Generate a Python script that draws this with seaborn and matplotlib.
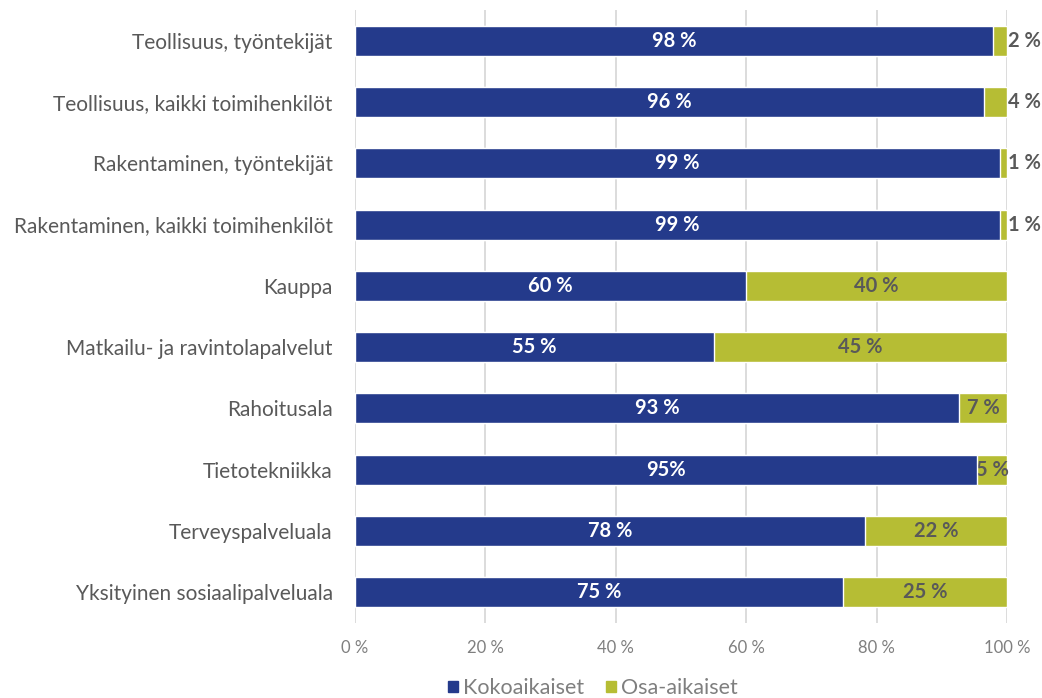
import numpy as np
import pandas as pd
import matplotlib
matplotlib.use("Agg")
import matplotlib.pyplot as plt
import seaborn as sns

# Data
categories = [
    "Teollisuus, työntekijät",
    "Teollisuus, kaikki toimihenkilöt",
    "Rakentaminen, työntekijät",
    "Rakentaminen, kaikki toimihenkilöt",
    "Kauppa",
    "Matkailu- ja ravintolapalvelut",
    "Rahoitusala",
    "Tietotekniikka",
    "Terveyspalveluala",
    "Yksityinen sosiaalipalveluala",
]
full_time = [97.8, 96.5, 98.9, 98.9, 60.0, 55.0, 92.7, 95.4, 78.2, 74.9]
part_time = [2.2, 3.5, 1.1, 1.1, 40.0, 45.0, 7.3, 4.6, 21.8, 25.1]
full_labels = ["98 %", "96 %", "99 %", "99 %", "60 %", "55 %", "93 %", "95%", "78 %", "75 %"]
part_labels = ["2 %", "4 %", "1 %", "1 %", "40 %", "45 %", "7 %", "5 %", "22 %", "25 %"]
# rows whose part-time label sits to the right of the bar
outside_rows = [0, 1, 2, 3]

series_names = ["Kokoaikaiset", "Osa-aikaiset"]
blue = "#243a8b"
green = "#b6bd34"
grey_text = "#595959"

df = pd.DataFrame({
    "category": categories,
    "full": full_time,
    "part": part_time,
})
df["total"] = df["full"] + df["part"]

sns.set_style("white")
plt.rcParams["font.family"] = ["Lato", "DejaVu Sans"]

fig = plt.figure(figsize=(10.42, 6.98), dpi=100)
ax = fig.add_axes([0.3407, 0.1074, 0.6257, 0.8783])

# stacked bars: total (green) underneath, full-time (blue) on top
sns.barplot(data=df, x="total", y="category", orient="h", color=green,
            width=0.49, saturation=1, ax=ax, zorder=1)
sns.barplot(data=df, x="full", y="category", orient="h", color=blue,
            width=0.49, saturation=1, ax=ax, zorder=3)

for i, row in df.iterrows():
    ax.text(row["full"] / 2, i, full_labels[i], ha="center", va="center",
            color="white", fontsize=14.5, fontweight="bold", zorder=4)
    if i in outside_rows:
        ax.text(row["total"] + 0.1, i, part_labels[i], ha="left", va="center",
                color=grey_text, fontsize=14.5, fontweight="bold", zorder=2)
    else:
        ax.text(row["full"] + row["part"] / 2, i, part_labels[i], ha="center",
                va="center", color=grey_text, fontsize=14.5, fontweight="bold",
                zorder=2)

ax.set_xlim(0, 100)
ax.set_ylim(9.5, -0.5)
ax.set_xticks(np.arange(0, 101, 20))
ax.set_xticklabels([f"{v} %" for v in range(0, 101, 20)])
ax.set_xlabel("")
ax.set_ylabel("")

ax.set_axisbelow(True)
ax.xaxis.grid(True, color="#d9d9d9", linewidth=1.3)
for s in ax.spines.values():
    s.set_visible(False)

ax.tick_params(axis="x", length=5, width=1.3, color="#d9d9d9",
               labelcolor="#7f7f7f", labelsize=12, pad=7)
ax.tick_params(axis="y", length=0, labelcolor=grey_text, labelsize=15, pad=16)

handles = [plt.Rectangle((0, 0), 1, 1, color=blue),
           plt.Rectangle((0, 0), 1, 1, color=green)]
fig.legend(handles, series_names, loc="center", bbox_to_anchor=(0.569, 0.014),
           ncol=2, frameon=False, fontsize=15.5, labelcolor="#7f7f7f",
           handlelength=0.45, handleheight=0.45, handletextpad=0.25,
           columnspacing=1.0, borderpad=0)

fig.savefig("out.png", dpi=100)
